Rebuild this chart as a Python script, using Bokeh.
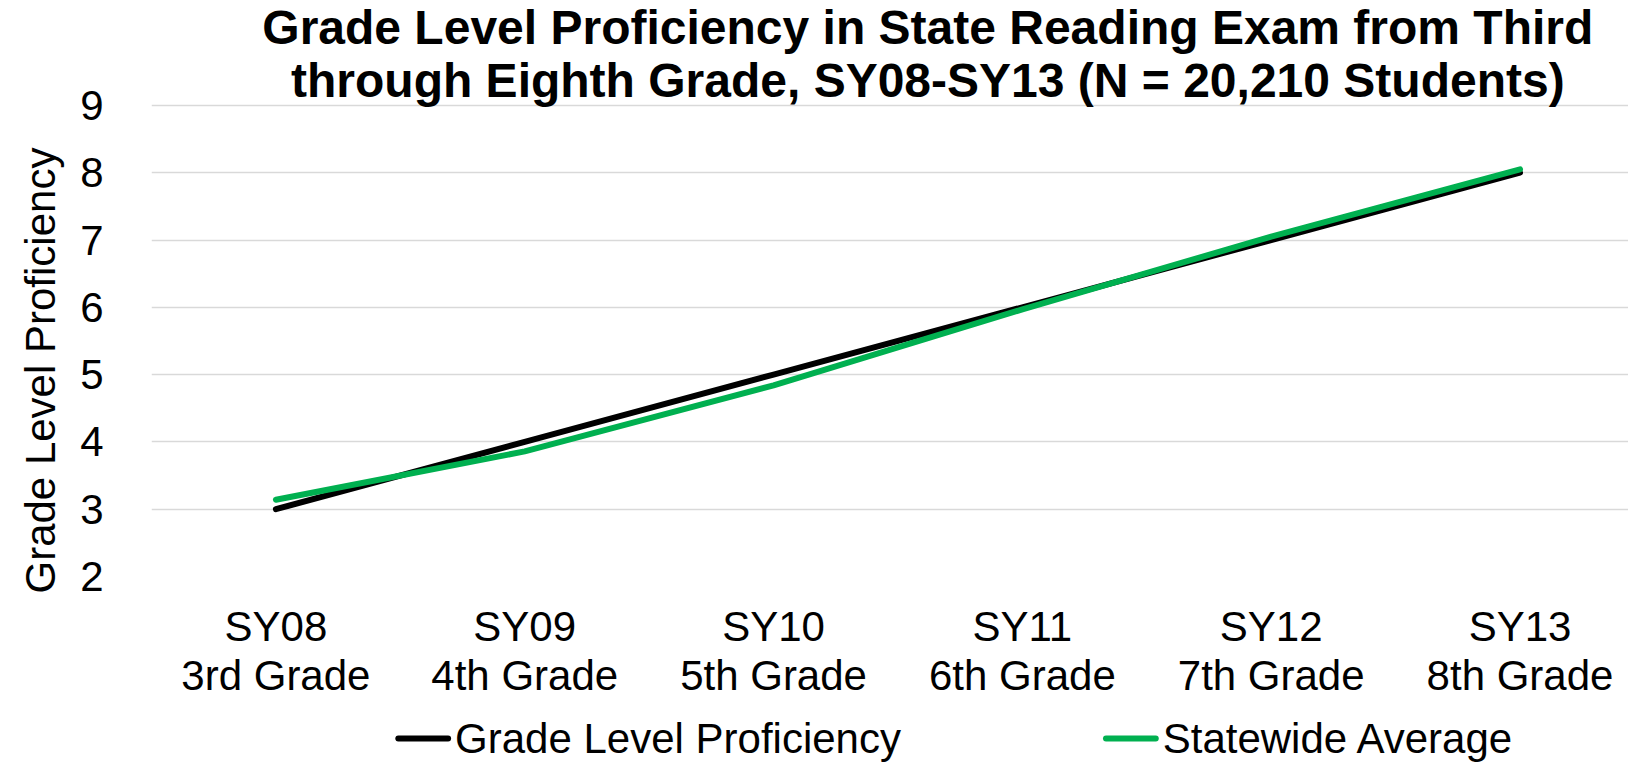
from bokeh.plotting import figure
from bokeh.layouts import column
from bokeh.models import (ColumnDataSource, FixedTicker, Label, Range1d, Title)
from bokeh.core.properties import value
from bokeh.embed import file_html
from bokeh.resources import INLINE

# ---- data ----
school_years = ["SY08", "SY09", "SY10", "SY11", "SY12", "SY13"]
grades = ["3rd Grade", "4th Grade", "5th Grade", "6th Grade", "7th Grade", "8th Grade"]
grade_level = [3, 4, 5, 6, 7, 8]
statewide = [3.14, 3.86, 4.84, 5.97, 7.05, 8.05]
y_ticks = [2, 3, 4, 5, 6, 7, 8, 9]
title_lines = ["Grade Level Proficiency in State Reading Exam from Third",
               "through Eighth Grade, SY08-SY13 (N = 20,210 Students)"]
y_title = "Grade Level Proficiency"
series_names = ["Grade Level Proficiency", "Statewide Average"]
series_colors = ["black", "#00B050"]

# ---- layout constants (canvas pixels) ----
W = 1628
H_MAIN, H_LEG = 708, 56
LEFT, BOTTOM = 144, 132
PX_X = 250.0
X0 = -0.5
X1 = X0 + (W - LEFT) / PX_X
frame_h = H_MAIN - BOTTOM
PX_Y = 67.3
Y0 = 2
Y1 = Y0 + frame_h / PX_Y   # frame reaches up to hold the title
LW = 6.0
FONT = "Liberation Sans"

x = list(range(len(school_years)))
src = ColumnDataSource(dict(x=x, gl=grade_level, sw=statewide))

p = figure(width=W, height=H_MAIN, output_backend="svg", toolbar_location=None,
           x_range=Range1d(X0, X1), y_range=Range1d(Y0, Y1),
           min_border_left=LEFT, min_border_right=0, min_border_top=0,
           min_border_bottom=BOTTOM)
p.outline_line_color = None
p.border_fill_color = "white"

p.line("x", "gl", source=src, line_color=series_colors[0], line_width=LW, line_cap="round")
p.line("x", "sw", source=src, line_color=series_colors[1], line_width=LW, line_cap="round")

# axes
p.xaxis.ticker = FixedTicker(ticks=x)
p.xaxis.major_label_overrides = {i: f"{s}\n{g}" for i, (s, g) in enumerate(zip(school_years, grades))}
p.yaxis.ticker = FixedTicker(ticks=y_ticks)
for ax in (p.xaxis[0], p.yaxis[0]):
    ax.axis_line_color = None
    ax.major_tick_line_color = None
    ax.minor_tick_line_color = None
    ax.major_label_text_font = FONT
    ax.major_label_text_font_size = "42px"
    ax.major_label_text_color = "black"
p.xaxis.major_label_text_line_height = 1.06
p.xaxis.major_label_standoff = 20
p.yaxis.major_label_standoff = 42

p.xgrid.grid_line_color = None
p.ygrid.grid_line_color = "#D9D9D9"
p.ygrid.grid_line_width = 1.5

# chart title (two lines) above the 9 gridline
title_cx = X0 + (924 - LEFT) / PX_X
for txt, off in zip(title_lines, [78, 25]):
    p.add_layout(Label(x=title_cx, y=9, y_offset=off, text=txt, text_align="center",
                       text_baseline="middle", text_font=FONT, text_font_style="bold",
                       text_font_size="48px", text_color="black"))

# y axis title
yt = Title(text=y_title, align="left", offset=-17, text_font=FONT,
           text_font_size="42px", text_font_style="normal", text_color="black",
           standoff=28)
p.add_layout(yt, "left")

# legend strip: its frame is aligned with the main frame, so its x range maps
# canvas pixels LEFT..W directly
q = figure(width=W, height=H_LEG, output_backend="svg", toolbar_location=None,
           x_range=Range1d(LEFT, W), y_range=Range1d(0, H_LEG), x_axis_type=None,
           y_axis_type=None, min_border=0, min_border_left=LEFT)
q.outline_line_color = None
q.xgrid.visible = False
q.ygrid.visible = False
leg_src = ColumnDataSource(dict(
    x0=[392, 1103], x1=[442, 1153], tx=[449, 1160], y=[26, 26],
    name=series_names, color=series_colors))
q.segment(x0="x0", y0="y", x1="x1", y1="y", source=leg_src, line_color="color",
          line_width=LW, line_cap="round")
q.text(x="tx", y="y", text="name", source=leg_src, text_font=value(FONT),
       text_font_size="42px", text_baseline="middle", text_align="left", text_color="black")

layout = column(p, q, spacing=0)
open("out.html", "w").write(file_html(layout, INLINE))
